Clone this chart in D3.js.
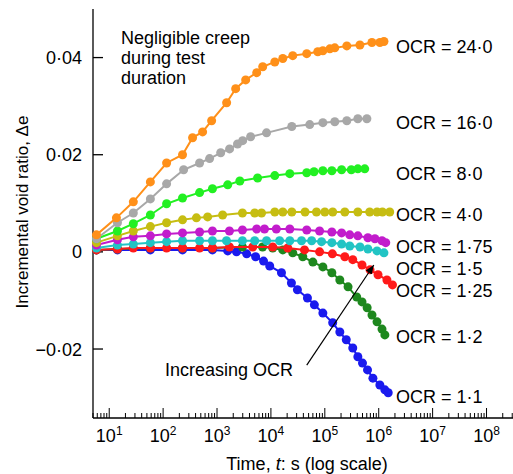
<!DOCTYPE html>
<html>
<head>
<meta charset="utf-8">
<script src="https://cdn.jsdelivr.net/npm/d3@7"></script>
<style>
  body { margin: 0; background: #fff; }
  svg { display: block; font-family: "Liberation Sans", Arial, sans-serif; }
</style>
</head>
<body>
<svg id="chart" width="513" height="474"></svg>
<script>
// time in s, incremental void ratio
const ocr24 = [[5.8,0.0035],[13.6,0.0070],[28,0.0103],[58,0.0144],[116,0.0183],[229,0.0200],[352,0.0235],[540,0.0247],[794,0.0270],[1507,0.0307],[2218,0.0336],[3400,0.0354],[5450,0.0369],[7040,0.0381],[11800,0.0391],[16600,0.0398],[25400,0.0404],[46200,0.0408],[74000,0.0412],[92000,0.0414],[124000,0.0418],[153000,0.0420],[256000,0.0424],[448000,0.0426],[748000,0.0431],[1.05e6,0.0431],[1.25e6,0.0433]];
const ocr16 = [[5.8,0.0027],[14.2,0.0060],[28,0.0080],[58,0.0109],[116,0.0140],[240,0.0169],[475,0.0183],[728,0.0192],[1170,0.0204],[1710,0.0212],[2400,0.0222],[2990,0.0229],[4200,0.0237],[8300,0.0245],[24400,0.0258],[52500,0.0262],[92000,0.0266],[153000,0.0268],[256000,0.0270],[410000,0.0274],[603000,0.0274]];
const ocr8 = [[5.8,0.0027],[14.2,0.0043],[28,0.0058],[58,0.0076],[116,0.0099],[229,0.0111],[475,0.0122],[822,0.0130],[1580,0.0138],[2650,0.0146],[5660,0.0152],[11800,0.0157],[22400,0.0161],[46200,0.0163],[63000,0.0165],[92000,0.0167],[135000,0.0167],[205000,0.0169],[310000,0.0169],[410000,0.0171],[550000,0.0171]];
const ocr4 = [[5.8,0.0019],[14.2,0.0033],[28,0.0043],[58,0.0052],[116,0.0060],[229,0.0066],[415,0.0070],[670,0.0072],[1270,0.0076],[2960,0.0080],[5000,0.0080],[6700,0.0080],[11800,0.0082],[16600,0.0082],[24400,0.0082],[43000,0.0082],[70000,0.0082],[100000,0.0082],[140000,0.0082],[235000,0.0082],[410000,0.0082],[680000,0.0082],[930000,0.0082],[1.17e6,0.0082],[1.6e6,0.0082]];
const ocr175 = [[5.8,0.0014],[14.2,0.0025],[28,0.0031],[58,0.0033],[116,0.0037],[229,0.0039],[475,0.0041],[822,0.0043],[1700,0.0043],[2960,0.0045],[5450,0.0047],[7600,0.0047],[12600,0.0047],[22400,0.0047],[46200,0.0045],[80000,0.0043],[135000,0.0041],[205000,0.0039],[290000,0.0035],[410000,0.0033],[630000,0.0029],[850000,0.0027],[1.15e6,0.0023],[1.35e6,0.0019]];
const ocr15 = [[5.8,0.0008],[14.2,0.0014],[28,0.0016],[58,0.0019],[116,0.0021],[229,0.0023],[475,0.0023],[822,0.0023],[1500,0.0023],[2960,0.0023],[5000,0.0023],[8300,0.0023],[14500,0.0023],[22400,0.0023],[37000,0.0023],[57000,0.0023],[87000,0.0021],[135000,0.0019],[205000,0.0016],[290000,0.0012],[450000,0.0010],[630000,0.0006],[930000,0.0002],[1.25e6,-0.0002]];
const ocr125 = [[5.8,0.0004],[14.2,0.0006],[28,0.0008],[58,0.0008],[116,0.0008],[229,0.0008],[475,0.0008],[822,0.0008],[1700,0.0010],[4600,0.0010],[10800,0.0010],[20500,0.0008],[42000,0.0004],[80000,0.0000],[138000,-0.0004],[235000,-0.0010],[330000,-0.0016],[490000,-0.0027],[690000,-0.0037],[970000,-0.0047],[1.42e6,-0.0058],[1.8e6,-0.0068]];
const ocr12 = [[5.8,0.0004],[14.2,0.0006],[58,0.0008],[229,0.0008],[822,0.0008],[2960,0.0010],[7000,0.0010],[10800,0.0008],[16600,0.0004],[25400,-0.0002],[39000,-0.0010],[60000,-0.0021],[92000,-0.0031],[135000,-0.0043],[190000,-0.0058],[270000,-0.0072],[390000,-0.0093],[490000,-0.0103],[610000,-0.0115],[750000,-0.0130],[930000,-0.0144],[1.15e6,-0.0159],[1.3e6,-0.0171]];
const ocr11 = [[5.8,0.0004],[14.2,0.0004],[58,0.0004],[229,0.0004],[822,0.0004],[1580,0.0002],[2300,0.0000],[3550,-0.0004],[5200,-0.0010],[7300,-0.0019],[9500,-0.0029],[15700,-0.0043],[24000,-0.0064],[31000,-0.0078],[47600,-0.0095],[64000,-0.0109],[92000,-0.0126],[140000,-0.0146],[190000,-0.0165],[250000,-0.0181],[330000,-0.0198],[410000,-0.0216],[500000,-0.0229],[620000,-0.0243],[780000,-0.0260],[1.05e6,-0.0274],[1.3e6,-0.0284],[1.5e6,-0.0290]];

const series = [
  {name: "1·1",  data: ocr11,  color: "#1a1aee", labelE: -0.0298},
  {name: "1·2",  data: ocr12,  color: "#1e881e", labelE: -0.0174},
  {name: "1·25", data: ocr125, color: "#ff1a1a", labelE: -0.0079},
  {name: "1·5",  data: ocr15,  color: "#22c4c4", labelE: -0.0034},
  {name: "1·75", data: ocr175, color: "#c21ccc", labelE: 0.0011},
  {name: "4·0",  data: ocr4,   color: "#c6bd12", labelE: 0.0076},
  {name: "8·0",  data: ocr8,   color: "#22f022", labelE: 0.0162},
  {name: "16·0", data: ocr16,  color: "#a8a8a8", labelE: 0.0266},
  {name: "24·0", data: ocr24,  color: "#ff9019", labelE: 0.0423}
];

const yTicks = [-0.02, 0, 0.02, 0.04];
const yTickLabels = ["−0·02", "0", "0·02", "0·04"];
const xDecades = [1, 2, 3, 4, 5, 6, 7, 8];

const svg = d3.select("#chart");
const x = d3.scaleLog().domain([5, 3.1e8]).range([93, 513]);
const y = d3.scaleLinear().domain([-0.0342, 0.050]).range([418, 9]);

// axes
const ax = svg.append("g").attr("stroke", "#000").attr("stroke-width", 1.3);
ax.append("line").attr("x1", x.range()[0]).attr("x2", x.range()[0]).attr("y1", y.range()[1]).attr("y2", y.range()[0]);
ax.append("line").attr("x1", x.range()[0]).attr("x2", x.range()[1]).attr("y1", y.range()[0]).attr("y2", y.range()[0]);

yTicks.forEach((v, i) => {
  ax.append("line").attr("x1", x.range()[0]).attr("x2", x.range()[0] + 10).attr("y1", y(v)).attr("y2", y(v));
  svg.append("text").attr("x", 82).attr("y", y(v)).attr("dy", "0.36em")
    .attr("text-anchor", "end").attr("font-size", 18).text(yTickLabels[i]);
});

const minor = [];
for (let k = 0; k <= 8; k++) {
  for (let m = 1; m <= 9; m++) {
    const v = m * Math.pow(10, k);
    if (v >= x.domain()[0] && v <= x.domain()[1]) minor.push({v: v, major: m === 1});
  }
}
minor.forEach(t => {
  ax.append("line").attr("x1", x(t.v)).attr("x2", x(t.v))
    .attr("y1", y.range()[0]).attr("y2", y.range()[0] - (t.major ? 10 : 5))
    .attr("stroke-width", 1);
});
xDecades.forEach(k => {
  const t = svg.append("text").attr("x", x(Math.pow(10, k))).attr("y", 442)
    .attr("text-anchor", "middle").attr("font-size", 18);
  t.append("tspan").text("10");
  t.append("tspan").attr("font-size", 12).attr("dy", -7).text(k);
});

svg.append("text").attr("x", 307).attr("y", 470).attr("text-anchor", "middle").attr("font-size", 18)
  .call(t => {
    t.append("tspan").text("Time, ");
    t.append("tspan").attr("font-style", "italic").text("t");
    t.append("tspan").text(": s (log scale)");
  });
svg.append("text").attr("transform", "translate(28,212) rotate(-90)").attr("text-anchor", "middle")
  .attr("font-size", 17).text("Incremental void ratio, Δe");

// curves
const line = d3.line().x(d => x(d[0])).y(d => y(d[1]));
series.forEach(s => {
  const g = svg.append("g");
  g.append("path").datum(s.data).attr("d", line).attr("fill", "none")
    .attr("stroke", s.color).attr("stroke-width", 2);
  g.selectAll("circle").data(s.data).join("circle")
    .attr("cx", d => x(d[0])).attr("cy", d => y(d[1])).attr("r", 4.5).attr("fill", s.color);
  svg.append("text").attr("x", 396).attr("y", y(s.labelE)).attr("dy", "0.36em")
    .attr("font-size", 18).text("OCR = " + s.name);
});

// annotations
["Negligible creep", "during test", "duration"].forEach((l, i) => {
  svg.append("text").attr("x", 121).attr("y", 44 + i * 20).attr("font-size", 18).text(l);
});
svg.append("text").attr("x", 165).attr("y", 376).attr("font-size", 18).text("Increasing OCR");

svg.append("defs").append("marker").attr("id", "arr").attr("viewBox", "0 0 10 10")
  .attr("refX", 10).attr("refY", 5).attr("markerWidth", 9).attr("markerHeight", 9)
  .attr("markerUnits", "userSpaceOnUse").attr("orient", "auto")
  .append("path").attr("d", "M0,1L10,5L0,9Z").attr("fill", "#000");
const arrowFrom = [46200, -0.0233], arrowTo = [8.1e5, -0.0027];
svg.append("line").attr("x1", x(arrowFrom[0])).attr("y1", y(arrowFrom[1]))
  .attr("x2", x(arrowTo[0])).attr("y2", y(arrowTo[1]))
  .attr("stroke", "#000").attr("stroke-width", 1.2).attr("marker-end", "url(#arr)");
</script>
</body>
</html>
